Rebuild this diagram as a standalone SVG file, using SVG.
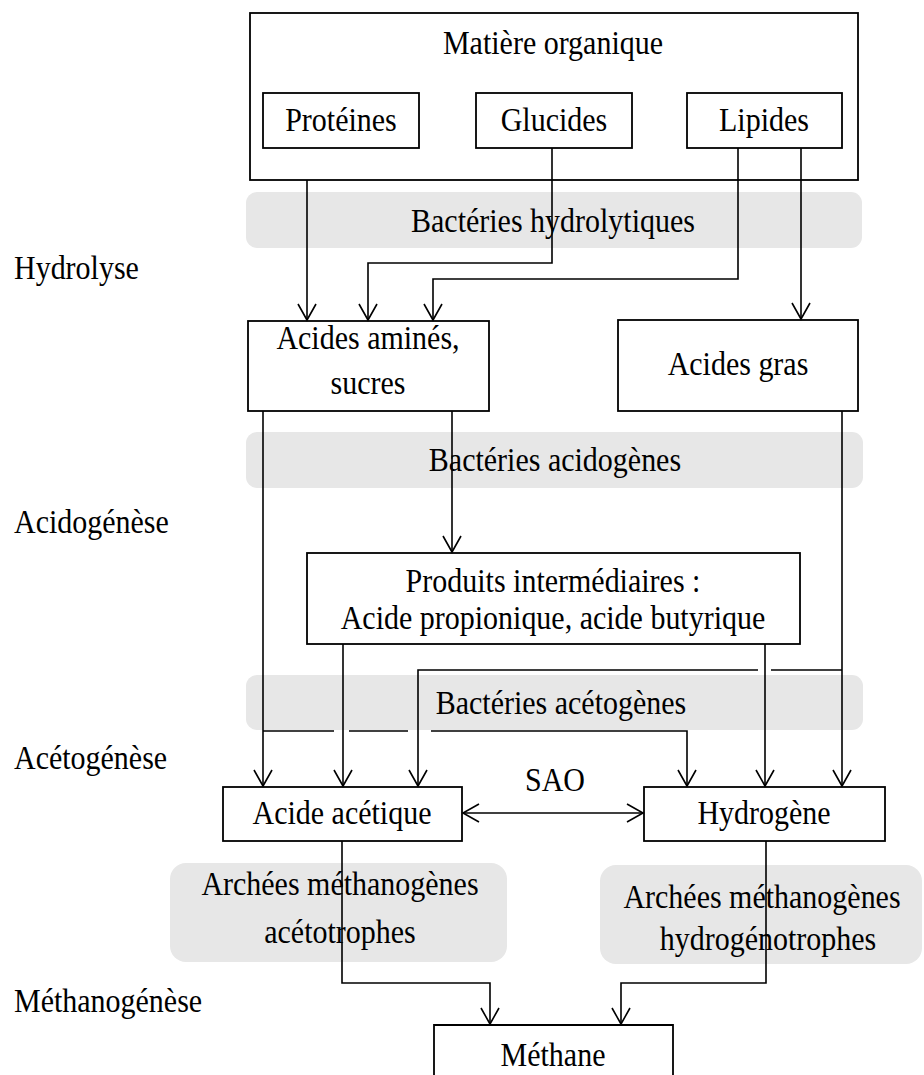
<svg xmlns="http://www.w3.org/2000/svg" width="924" height="1075" viewBox="0 0 924 1075">
<defs>
<marker id="arr" markerUnits="userSpaceOnUse" markerWidth="24" markerHeight="24" viewBox="-20 -12 24 24" refX="0" refY="0" orient="auto-start-reverse">
<path d="M-16,-9 L0,0 L-16,9" fill="none" stroke="#000" stroke-width="1.6"/>
</marker>
</defs>
<style>
text{font-family:"Liberation Serif","Times New Roman",serif;font-size:30px;fill:#000;transform-box:fill-box;transform-origin:center;transform:scaleY(1.1)}
.c{text-anchor:middle}
.box{fill:#fff;stroke:#000;stroke-width:1.8}
.band{fill:#e7e7e7;stroke:none}
.ln{fill:none;stroke:#000;stroke-width:1.6}
</style>
<rect width="924" height="1075" fill="#fff"/>
<g id="stages">
<text x="14" y="278">Hydrolyse</text>
<text x="14" y="532">Acidogénèse</text>
<text x="14" y="768">Acétogénèse</text>
<text x="14" y="1011">Méthanogénèse</text>
</g>
<g id="matiere">
<rect class="box" x="250" y="13" width="608" height="167"/>
<text class="c" x="553" y="53">Matière organique</text>
</g>
<g id="band-hydro">
<rect class="band" x="246" y="192" width="616" height="56" rx="11"/>
<text class="c" x="553" y="231">Bactéries hydrolytiques</text>
</g>
<g id="band-acido">
<rect class="band" x="246" y="432" width="617" height="56" rx="11"/>
<text class="c" x="555" y="470">Bactéries acidogènes</text>
</g>
<g id="band-aceto">
<rect class="band" x="246" y="675" width="617" height="55" rx="11"/>
<text class="c" x="561" y="713">Bactéries acétogènes</text>
</g>
<g id="band-aceto-troph">
<rect class="band" x="170" y="863" width="337" height="99" rx="16"/>
<text class="c" x="340" y="894">Archées méthanogènes</text>
<text class="c" x="340" y="942">acétotrophes</text>
</g>
<g id="band-hydro-troph">
<rect class="band" x="600" y="865" width="322" height="99" rx="16"/>
<text class="c" x="762" y="907">Archées méthanogènes</text>
<text class="c" x="768" y="949">hydrogénotrophes</text>
</g>
<g id="proteines">
<rect class="box" x="263" y="93" width="156" height="55"/>
<text class="c" x="341" y="130">Protéines</text>
</g>
<g id="glucides">
<rect class="box" x="476" y="93" width="156" height="55"/>
<text class="c" x="554" y="130">Glucides</text>
</g>
<g id="lipides">
<rect class="box" x="687" y="93" width="155" height="55"/>
<text class="c" x="764" y="130">Lipides</text>
</g>
<g id="acides-amines">
<rect class="box" x="248" y="321" width="241" height="90"/>
<text class="c" x="368" y="348">Acides aminés,</text>
<text class="c" x="368" y="393">sucres</text>
</g>
<g id="acides-gras">
<rect class="box" x="618" y="320" width="240" height="91"/>
<text class="c" x="738" y="374">Acides gras</text>
</g>
<g id="produits">
<rect class="box" x="307" y="553" width="493" height="91"/>
<text class="c" x="553" y="591">Produits intermédiaires :</text>
<text class="c" x="553" y="628">Acide propionique, acide butyrique</text>
</g>
<g id="acide-acetique">
<rect class="box" x="223" y="787" width="239" height="54"/>
<text class="c" x="342" y="823">Acide acétique</text>
</g>
<g id="hydrogene">
<rect class="box" x="644" y="787" width="241" height="54"/>
<text class="c" x="764" y="823">Hydrogène</text>
</g>
<g id="methane">
<path class="box" d="M434,1080 V1025 H673 V1080"/>
<text class="c" x="553" y="1065">Méthane</text>
</g>
<g id="sao-label">
<text class="c" x="555" y="790">SAO</text>
</g>
<g id="connectors">
<path class="ln" d="M307,180 V320" marker-end="url(#arr)"/>
<path class="ln" d="M552,148 V263 H368 V320" marker-end="url(#arr)"/>
<path class="ln" d="M738,148 V279 H433 V320" marker-end="url(#arr)"/>
<path class="ln" d="M801,148 V319" marker-end="url(#arr)"/>
<path class="ln" d="M263,411 V786" marker-end="url(#arr)"/>
<path class="ln" d="M452,411 V552" marker-end="url(#arr)"/>
<path class="ln" d="M842,411 V786" marker-end="url(#arr)"/>
<path class="ln" d="M343,644 V786" marker-end="url(#arr)"/>
<path class="ln" d="M765,644 V786" marker-end="url(#arr)"/>
<path class="ln" d="M842,670 H771"/>
<path class="ln" d="M758,670 H418 V786" marker-end="url(#arr)"/>
<path class="ln" d="M263,731 H334"/>
<path class="ln" d="M349,731 H408"/>
<path class="ln" d="M431,731 H687 V786" marker-end="url(#arr)"/>
<path class="ln" d="M463,813 H643" marker-start="url(#arr)" marker-end="url(#arr)"/>
<path class="ln" d="M342,841 V983 H490 V1024" marker-end="url(#arr)"/>
<path class="ln" d="M766,841 V983 H621 V1024" marker-end="url(#arr)"/>
</g>
</svg>
